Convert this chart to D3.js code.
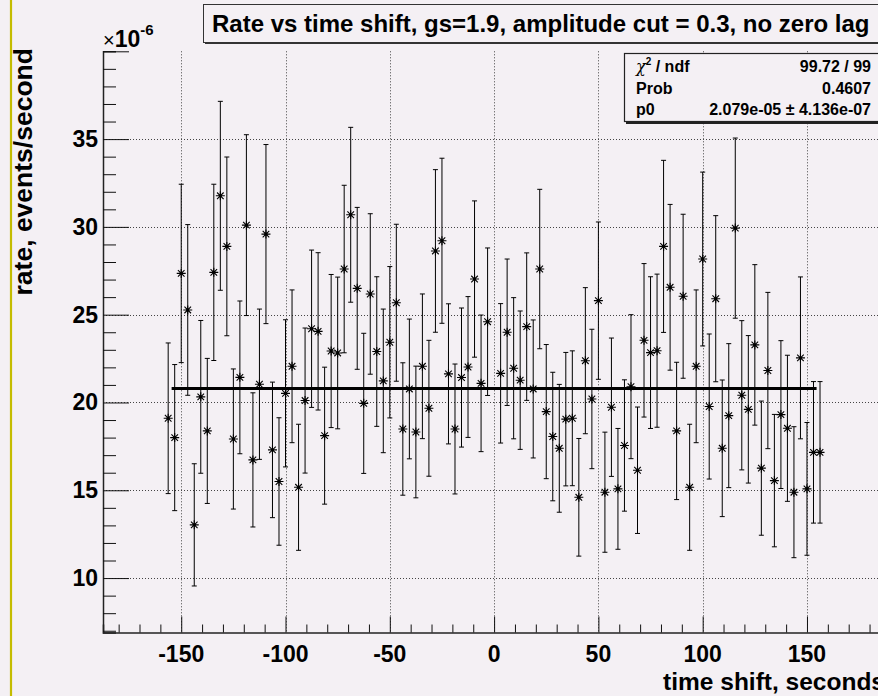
<!DOCTYPE html>
<html>
<head>
<meta charset="utf-8">
<script src="https://d3js.org/d3.v7.min.js"></script>
<style>
	body { margin: 0; background: #f4f0f4; }
	svg { display: block; }
	text { font-family: "Liberation Sans", Arial, Helvetica, sans-serif; font-weight: bold; fill: #000; }
</style>
</head>
<body>
<svg id="rate_plot" width="878" height="696"></svg>
<script>
// time shifts (seconds), zero lag left out
var shifts = [
	-156.25, -153.125, -150, -146.875, -143.75, -140.625, -137.5, -134.375, -131.25, -128.125,
	-125, -121.875, -118.75, -115.625, -112.5, -109.375, -106.25, -103.125, -100, -96.875,
	-93.75, -90.625, -87.5, -84.375, -81.25, -78.125, -75, -71.875, -68.75, -65.625,
	-62.5, -59.375, -56.25, -53.125, -50, -46.875, -43.75, -40.625, -37.5, -34.375,
	-31.25, -28.125, -25, -21.875, -18.75, -15.625, -12.5, -9.375, -6.25, -3.125,
	3.125, 6.25, 9.375, 12.5, 15.625, 18.75, 21.875, 25, 28.125, 31.25,
	34.375, 37.5, 40.625, 43.75, 46.875, 50, 53.125, 56.25, 59.375, 62.5,
	65.625, 68.75, 71.875, 75, 78.125, 81.25, 84.375, 87.5, 90.625, 93.75,
	96.875, 100, 103.125, 106.25, 109.375, 112.5, 115.625, 118.75, 121.875, 125,
	128.125, 131.25, 134.375, 137.5, 140.625, 143.75, 146.875, 150, 153.125, 156.25
];
// rate in units of 1e-6 events/second
var rates = [
	19.1, 18.0, 27.35, 25.27, 13.03, 20.32, 18.38, 27.41, 31.77, 28.89,
	17.92, 21.43, 30.1, 16.73, 21.04, 29.59, 17.30, 15.5, 20.52, 22.06,
	15.17, 20.11, 24.2, 24.05, 18.11, 22.93, 22.82, 27.6, 30.69, 26.5,
	19.95, 26.18, 22.9, 21.23, 23.43, 25.68, 18.49, 20.77, 18.32, 22.06,
	19.67, 28.63, 29.21, 21.63, 18.49, 21.42, 22.02, 27.03, 21.09, 24.6,
	21.66, 24.0, 21.95, 21.27, 24.32, 20.77, 27.6, 19.48, 18.06, 17.39,
	19.05, 19.1, 14.6, 22.38, 20.2, 25.8, 14.89, 19.73, 15.08, 17.55,
	20.9, 16.14, 23.54, 22.84, 22.95, 28.89, 26.56, 18.38, 26.05, 15.17,
	22.06, 28.17, 19.77, 25.91, 17.39, 19.25, 29.93, 20.41, 19.61, 23.28,
	16.26, 21.82, 15.55, 19.31, 18.53, 14.89, 22.54, 15.08, 17.16, 17.16
];
var rate_errors = [
	4.29, 4.16, 5.08, 4.86, 3.48, 4.35, 4.13, 5.02, 5.38, 5.09,
	3.99, 4.35, 5.15, 3.82, 4.28, 5.1, 3.86, 3.63, 4.19, 4.35,
	3.59, 4.13, 4.48, 4.48, 3.9, 4.36, 4.32, 4.77, 4.98, 4.61,
	3.99, 4.57, 4.26, 4.09, 4.31, 4.47, 3.77, 3.98, 3.75, 4.12,
	3.87, 4.63, 4.70, 3.99, 3.70, 3.96, 4.01, 4.45, 3.89, 4.2,
	3.97, 4.17, 4.02, 3.94, 4.2, 3.93, 4.54, 3.82, 3.66, 3.64,
	3.8, 3.84, 3.35, 4.16, 3.97, 4.48, 3.42, 3.94, 3.44, 3.74,
	4.1, 3.6, 4.37, 4.32, 4.36, 4.9, 4.72, 3.91, 4.67, 3.59,
	4.35, 4.95, 4.13, 4.73, 3.89, 4.1, 5.13, 4.25, 4.2, 4.57,
	3.82, 4.45, 3.77, 4.21, 4.16, 3.73, 4.61, 3.78, 4.03, 4.03
];
var x_ticks = [-150, -100, -50, 0, 50, 100, 150];
var y_ticks = [10, 15, 20, 25, 30, 35];
var fit_p0 = 20.79;
var fit_range = [-154.6, 154.6];
var stats_rows = [["χ2 / ndf", "99.72 / 99"], ["Prob", "0.4607"], ["p0", "2.079e-05 ± 4.136e-07"]];
var title_text = "Rate vs time shift, gs=1.9, amplitude cut = 0.3, no zero lag";

var data = shifts.map(function(s, i){ return {x: s, y: rates[i], e: rate_errors[i]}; });

function draw_plot(){
	var svg = d3.select("#rate_plot");

	var x = d3.scaleLinear().domain([-187.5, 187.5]).range([103, 885.2]);
	var y = d3.scaleLinear().domain([6.9, 40]).range([632.5, 51.3]);

	// yellow line on the left
	svg.append("line")
		.attr("x1", 11).attr("x2", 11).attr("y1", 0).attr("y2", 696)
		.attr("stroke", "#c4bc00").attr("stroke-width", 2.2);

	// grid
	svg.append("g").selectAll("line")
		.data(x_ticks).enter().append("line")
		.attr("x1", function(d){ return Math.round(x(d)) + 0.5; })
		.attr("x2", function(d){ return Math.round(x(d)) + 0.5; })
		.attr("y1", y(40)).attr("y2", y(6.9))
		.attr("stroke", "#444").attr("stroke-dasharray", "1,2");
	svg.append("g").selectAll("line")
		.data(y_ticks).enter().append("line")
		.attr("y1", function(d){ return Math.round(y(d)) + 0.5; })
		.attr("y2", function(d){ return Math.round(y(d)) + 0.5; })
		.attr("x1", 103).attr("x2", 885)
		.attr("stroke", "#444").attr("stroke-dasharray", "1,2");

	// axes, ROOT style ticks inside the frame
	var xAxis = d3.axisBottom(x).tickValues(d3.range(-180, 181, 10))
		.tickSize(-8).tickFormat("");
	svg.append("g").attr("transform", "translate(0,632.5)").call(xAxis)
		.call(function(g){ g.selectAll(".tick line").attr("stroke", "#111")
			.attr("y2", function(d){ return d % 50 == 0 ? -16 : -8; }); })
		.call(function(g){ g.select(".domain").attr("stroke", "#222").attr("stroke-width", 1.5); });

	var yAxis = d3.axisLeft(y).tickValues(d3.range(7, 40.5, 1))
		.tickSize(-13).tickFormat("");
	svg.append("g").attr("transform", "translate(103,0)").call(yAxis)
		.call(function(g){ g.selectAll(".tick line").attr("stroke", "#111")
			.attr("x2", function(d){ return d % 5 == 0 ? 26 : 13; }); })
		.call(function(g){ g.select(".domain").attr("stroke", "#222").attr("stroke-width", 1.5); });

	// tick labels
	svg.append("g").selectAll("text")
		.data(x_ticks).enter().append("text")
		.attr("x", function(d){ return x(d); })
		.attr("y", 662)
		.attr("text-anchor", "middle")
		.style("font-size", "23px")
		.text(function(d){ return d; });
	svg.append("g").selectAll("text")
		.data(y_ticks).enter().append("text")
		.attr("x", 98)
		.attr("y", function(d){ return y(d) + 8; })
		.attr("text-anchor", "end")
		.style("font-size", "23px")
		.text(function(d){ return d; });

	// x10^-6
	var expo = svg.append("text").attr("x", 103).attr("y", 47).style("font-size", "23px");
	expo.append("tspan").style("font-weight", "normal").style("font-size", "20px").text("×");
	expo.append("tspan").style("font-size", "23px").text("10");
	expo.append("tspan").attr("dy", -12).style("font-size", "15px").text("-6");

	// axis titles
	svg.append("text")
		.attr("x", 885).attr("y", 690)
		.attr("text-anchor", "end")
		.style("font-size", "24.5px")
		.text("time shift, seconds");
	svg.append("text")
		.attr("transform", "translate(32,48) rotate(-90)")
		.attr("text-anchor", "end")
		.style("font-size", "26.5px")
		.text("rate, events/second");

	// error bars
	var pts = svg.append("g");
	pts.selectAll("line.err")
		.data(data).enter().append("line")
		.attr("class", "err")
		.attr("x1", function(d){ return x(d.x); })
		.attr("x2", function(d){ return x(d.x); })
		.attr("y1", function(d){ return y(d.y + d.e); })
		.attr("y2", function(d){ return y(d.y - d.e); })
		.attr("stroke", "#000");
	pts.selectAll("path.cap")
		.data(data).enter().append("path")
		.attr("class", "cap")
		.attr("d", function(d){
			var cx = x(d.x);
			return "M" + (cx - 2.5) + "," + y(d.y + d.e) + "H" + (cx + 2.5)
				+ "M" + (cx - 2.5) + "," + y(d.y - d.e) + "H" + (cx + 2.5);
		})
		.attr("stroke", "#000");

	// fit line
	svg.append("line")
		.attr("x1", x(fit_range[0])).attr("x2", x(fit_range[1]))
		.attr("y1", y(fit_p0)).attr("y2", y(fit_p0))
		.attr("stroke", "#000").attr("stroke-width", 3);

	// asterisk markers
	pts.selectAll("path.mark")
		.data(data).enter().append("path")
		.attr("class", "mark")
		.attr("transform", function(d){ return "translate(" + x(d.x) + "," + y(d.y) + ")"; })
		.attr("d", "M-4.5,0H4.5M0,-4.5V4.5M-3.3,-3.3L3.3,3.3M-3.3,3.3L3.3,-3.3")
		.attr("stroke", "#000").attr("stroke-width", 1.1);
	pts.selectAll("circle")
		.data(data).enter().append("circle")
		.attr("cx", function(d){ return x(d.x); })
		.attr("cy", function(d){ return y(d.y); })
		.attr("r", 1.5);

	// title box
	svg.append("rect")
		.attr("x", 205).attr("y", 6).attr("width", 700).attr("height", 38)
		.attr("fill", "#333");
	svg.append("rect")
		.attr("x", 203.5).attr("y", 4.5).attr("width", 700).attr("height", 38)
		.attr("fill", "#f4f0f4").attr("stroke", "#333");
	svg.append("text")
		.attr("x", 212).attr("y", 32)
		.style("font-size", "24px")
		.text(title_text);

	// stats box
	svg.append("rect")
		.attr("x", 626).attr("y", 55).attr("width", 300).attr("height", 69)
		.attr("fill", "#222");
	svg.append("rect")
		.attr("x", 624.5).attr("y", 53.5).attr("width", 300).attr("height", 68)
		.attr("fill", "#f4f0f4").attr("stroke", "#222").attr("stroke-width", 1.2);
	var rows = svg.append("g").selectAll("g")
		.data(stats_rows).enter().append("g")
		.attr("transform", function(d, i){ return "translate(0," + (72 + i * 21.7) + ")"; });
	rows.append("text")
		.attr("x", 636)
		.style("font-size", "16px")
		.each(function(d){
			var t = d3.select(this);
			if (d[0].indexOf("χ") == 0) {
				t.append("tspan").style("font-weight", "normal").style("font-family", "DejaVu Serif, serif").style("font-style", "italic").text("χ");
				t.append("tspan").attr("dy", -7).style("font-size", "10px").text("2");
				t.append("tspan").attr("dy", 7).text(" / ndf");
			} else {
				t.text(d[0]);
			}
		});
	rows.append("text")
		.attr("x", 871)
		.attr("text-anchor", "end")
		.style("font-size", "16px")
		.text(function(d){ return d[1]; });
}

draw_plot();
</script>
</body>
</html>
